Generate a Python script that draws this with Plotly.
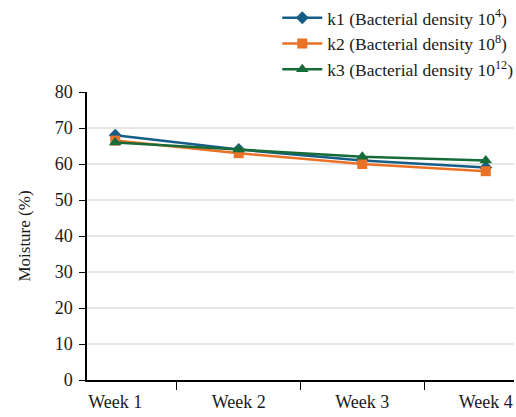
import plotly.graph_objects as go

weeks = ["Week 1", "Week 2", "Week 3", "Week 4"]
k1 = [68, 64, 61, 59]
k2 = [66.5, 63, 60, 58]
k3 = [66, 64, 62, 61]

series = [
    ("k1 (Bacterial density 10<sup>4</sup>)", k1, "#175e87", "diamond", 10),
    ("k2 (Bacterial density 10<sup>8</sup>)", k2, "#ea7125", "square", 10),
    ("k3 (Bacterial density 10<sup>12</sup>)", k3, "#166b39", "triangle-up", 11),
]

fig = go.Figure()
for name, vals, color, symbol, size in series:
    fig.add_trace(go.Scatter(
        x=weeks, y=vals, name=name, mode="lines+markers",
        line=dict(color=color, width=2.5),
        marker=dict(symbol=symbol, size=size, color=color),
    ))

fig.update_layout(
    width=516, height=417,
    margin=dict(l=87, r=2, t=92, b=37, autoexpand=False),
    paper_bgcolor="white", plot_bgcolor="white",
    font=dict(family="Liberation Serif", size=18, color="#1a1a1a"),
    showlegend=True,
    legend=dict(
        x=1.01, xanchor="right", y=1.32, yanchor="top",
        bgcolor="rgba(0,0,0,0)", tracegroupgap=0,
        font=dict(size=17.5), itemwidth=40,
    ),
    xaxis=dict(
        showline=True, linecolor="black", linewidth=1.5,
        ticks="outside", tickson="boundaries", ticklen=8, tickcolor="black",
        ticklabelstandoff=5, showgrid=False,
    ),
    yaxis=dict(
        title=dict(text="Moisture (%)", standoff=20, font=dict(size=17)),
        range=[0, 80], dtick=10,
        showline=True, linecolor="black", linewidth=1.5,
        ticks="outside", ticklen=6, tickcolor="black", ticklabelstandoff=3,
        showgrid=True, gridcolor="#e6e6e6", gridwidth=1.5,
        zeroline=False,
    ),
)

fig.write_html("out.html", config={"displayModeBar": False},
               post_script="document.body.style.margin='0';")
